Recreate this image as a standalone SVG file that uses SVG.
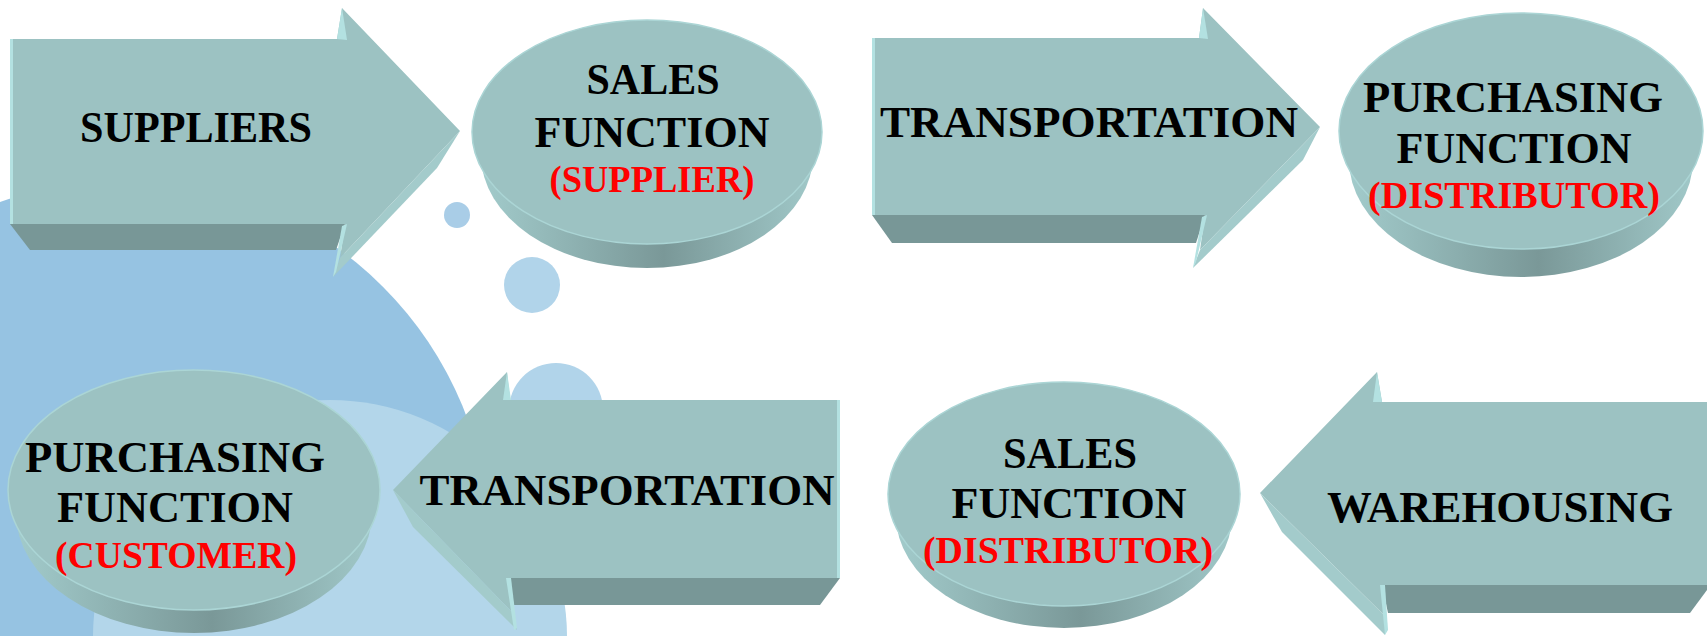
<svg xmlns="http://www.w3.org/2000/svg" width="1707" height="636" viewBox="0 0 1707 636">
<defs>
<linearGradient id="side" x1="0" y1="0" x2="1" y2="0">
<stop offset="0" stop-color="#A2CBCB"/>
<stop offset="0.55" stop-color="#7A9898"/>
<stop offset="1" stop-color="#A0C8C8"/>
</linearGradient>
<style>
.face{fill:#9CC2C2}
.top{fill:#9CC2C2;stroke:#ABD5D5;stroke-width:1.5}
.under{fill:#789797}
.band{fill:#A3CBCB}
.lite{fill:#B3E1E1}
.side{fill:url(#side)}
text{font-family:"Liberation Serif","Times New Roman",serif;font-weight:bold;text-anchor:middle}
.k{font-size:44px;fill:#000000}
.r{font-size:37px;fill:#FF0000}
</style>
</defs>
<rect width="1707" height="636" fill="#FFFFFF"/>
<g id="background">
<circle cx="125" cy="545" r="365" fill="#96C3E2"/>
<circle cx="330" cy="637" r="237" fill="#B3D6EA"/>
<circle cx="457" cy="215" r="13" fill="#A9CDE7"/>
<circle cx="532" cy="285" r="28" fill="#B1D4EA"/>
<circle cx="556" cy="410" r="47" fill="#B1D4EA"/>
</g>
<g id="connectors"></g>
<g id="node-suppliers">
<polygon class="under" points="10,224 345,224 336,250 30,250"/>
<polygon class="face" points="10,39 337,39 342,8 460,131 340,258 345,224 10,224"/>
<polygon class="band" points="460,131 437,168 333,277 340,258"/>
<polygon class="lite" points="337,39 342,8 347,40"/>
<polygon class="lite" points="342,226 347,224 336,272 333,277"/>
<rect class="lite" x="10" y="39" width="3" height="185"/>
<text class="k" x="196" y="142" textLength="232" lengthAdjust="spacingAndGlyphs">SUPPLIERS</text>
</g>
<g id="node-sales-supplier">
<ellipse class="side" cx="647" cy="155" rx="166" ry="113"/>
<ellipse class="top" cx="647" cy="132" rx="175" ry="112"/>
<text class="k" x="653" y="94" textLength="133" lengthAdjust="spacingAndGlyphs">SALES</text>
<text class="k" x="652" y="147" textLength="235" lengthAdjust="spacingAndGlyphs">FUNCTION</text>
<text class="r" x="652" y="192" textLength="205" lengthAdjust="spacingAndGlyphs">(SUPPLIER)</text>
</g>
<g id="node-transportation-top">
<polygon class="under" points="872,215 1205,215 1196,243 892,243"/>
<polygon class="face" points="872,38 1199,38 1203,8 1320,127 1200,250 1205,215 872,215"/>
<polygon class="band" points="1320,127 1303,160 1193,268 1200,250"/>
<polygon class="lite" points="1199,38 1203,8 1208,39"/>
<polygon class="lite" points="1202,217 1207,215 1196,262 1193,268"/>
<rect class="lite" x="872" y="38" width="3" height="177"/>
<text class="k" x="1089" y="137" textLength="418" lengthAdjust="spacingAndGlyphs">TRANSPORTATION</text>
</g>
<g id="node-purchasing-distributor">
<ellipse class="side" cx="1521" cy="160" rx="172" ry="117"/>
<ellipse class="top" cx="1521" cy="131" rx="182" ry="118"/>
<text class="k" x="1513" y="112" textLength="300" lengthAdjust="spacingAndGlyphs">PURCHASING</text>
<text class="k" x="1514" y="163" textLength="235" lengthAdjust="spacingAndGlyphs">FUNCTION</text>
<text class="r" x="1514" y="208" textLength="292" lengthAdjust="spacingAndGlyphs">(DISTRIBUTOR)</text>
</g>
<g id="node-warehousing">
<polygon class="under" points="1382,585 1707,585 1707,590 1690,613 1388,613"/>
<polygon class="face" points="1712,402 1382,402 1377,372 1260,493 1386,617 1382,585 1712,585"/>
<polygon class="band" points="1260,493 1282,532 1385,635 1386,617"/>
<polygon class="lite" points="1373,402 1377,372 1382,402"/>
<polygon class="lite" points="1380,585 1385,585 1388,630 1385,635"/>
<text class="k" x="1500" y="522" textLength="346" lengthAdjust="spacingAndGlyphs">WAREHOUSING</text>
</g>
<g id="node-sales-distributor">
<ellipse class="side" cx="1064" cy="516" rx="168" ry="112"/>
<ellipse class="top" cx="1064" cy="494" rx="176" ry="112"/>
<text class="k" x="1070" y="468" textLength="134" lengthAdjust="spacingAndGlyphs">SALES</text>
<text class="k" x="1069" y="518" textLength="235" lengthAdjust="spacingAndGlyphs">FUNCTION</text>
<text class="r" x="1068" y="563" textLength="290" lengthAdjust="spacingAndGlyphs">(DISTRIBUTOR)</text>
</g>
<g id="node-transportation-bottom">
<polygon class="under" points="508,578 840,578 820,605 514,605"/>
<polygon class="face" points="840,400 510,400 507,372 393,490 512,612 508,578 840,578"/>
<polygon class="band" points="393,490 413,527 517,630 512,612"/>
<polygon class="lite" points="503,400 507,372 511,400"/>
<polygon class="lite" points="506,578 511,578 517,628 514,630"/>
<rect class="lite" x="837" y="400" width="3" height="178"/>
<text class="k" x="627" y="505" textLength="415" lengthAdjust="spacingAndGlyphs">TRANSPORTATION</text>
</g>
<g id="node-purchasing-customer">
<ellipse class="side" cx="194" cy="513" rx="178" ry="120"/>
<ellipse class="top" cx="194" cy="490" rx="186" ry="120"/>
<text class="k" x="175" y="472" textLength="300" lengthAdjust="spacingAndGlyphs">PURCHASING</text>
<text class="k" x="175" y="522" textLength="236" lengthAdjust="spacingAndGlyphs">FUNCTION</text>
<text class="r" x="176" y="568" textLength="242" lengthAdjust="spacingAndGlyphs">(CUSTOMER)</text>
</g>
</svg>
